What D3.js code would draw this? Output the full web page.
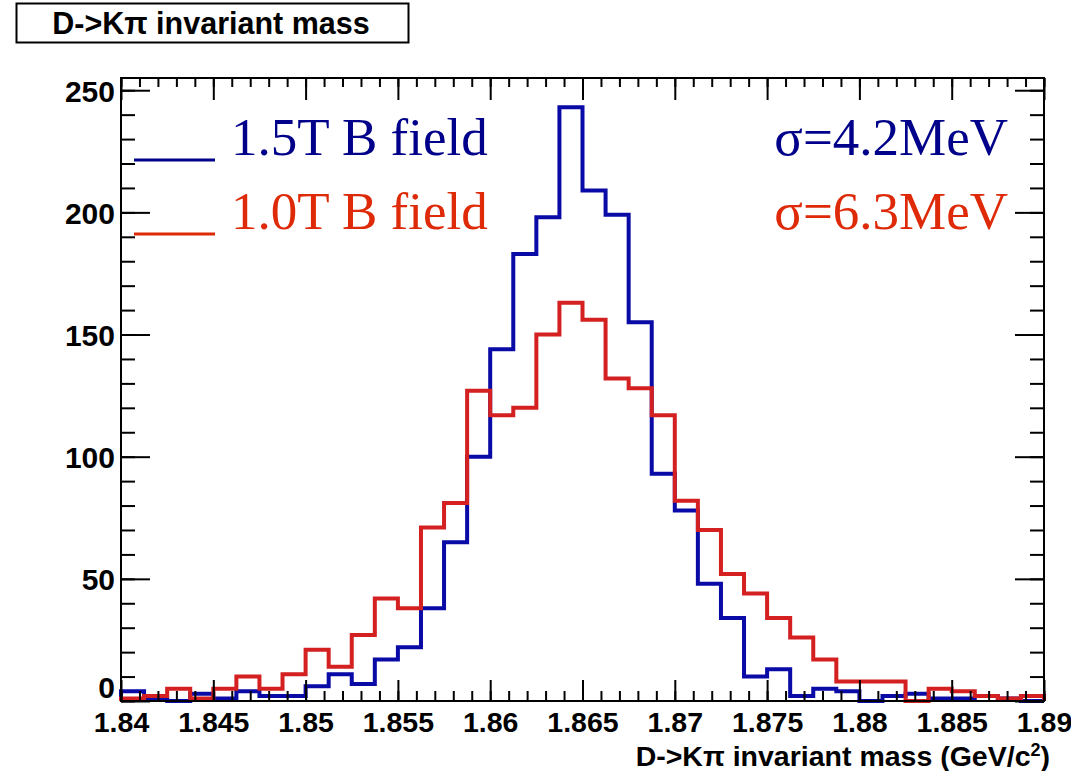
<!DOCTYPE html>
<html>
<head>
<meta charset="utf-8">
<script src="https://cdn.jsdelivr.net/npm/d3@7"></script>
<style>
  body { margin: 0; background: #fff; }
  text { font-family: "Liberation Sans", Arial, sans-serif; }
</style>
</head>
<body>
<script>
const svgWidth = 1071;
const svgHeight = 771;

// histogram binning (40 bins between 1.84 and 1.89 GeV/c2)
const xMin = 1.84;
const xMax = 1.89;
const nBins = 40;

// counts per bin
const counts15T = [4, 1, 0, 3, 1, 4, 2, 2, 6, 11, 7, 17, 22, 38, 65, 100, 144, 183, 198, 243,
                   209, 199, 155, 93, 78, 48, 34, 10, 13, 2, 5, 4, 0, 2, 3, 1, 1, 2, 1, 0];
const counts10T = [1, 2, 5, 1, 5, 10, 5, 11, 21, 14, 27, 42, 38, 71, 81, 127, 117, 120, 150, 163,
                   156, 132, 128, 117, 82, 70, 52, 44, 34, 26, 17, 8, 8, 8, 0, 5, 4, 2, 1, 2];

const xTicks = [1.84, 1.845, 1.85, 1.855, 1.86, 1.865, 1.87, 1.875, 1.88, 1.885, 1.89];
const xTickLabels = ['1.84', '1.845', '1.85', '1.855', '1.86', '1.865', '1.87', '1.875', '1.88', '1.885', '1.89'];
const yTicks = [0, 50, 100, 150, 200, 250];
const yTickLabels = ['0', '50', '100', '150', '200', '250'];

const legendLabels = ['1.5T B field', '1.0T B field'];
const sigmaLabels = ['\u03c3=4.2MeV', '\u03c3=6.3MeV'];

const lineColors = ['#0a0aa6', '#d42020'];
const textColors = ['#00008a', '#de2a08'];
const serif = '"Liberation Serif", "Times New Roman", serif';

const svg = d3.select('body')
              .append('svg')
              .attr('width', svgWidth)
              .attr('height', svgHeight);

const plotLeft = 121, plotRight = 1044, plotTop = 78, plotBottom = 701;

const x = d3.scaleLinear().domain([xMin, xMax]).range([plotLeft, plotRight]);
const y = d3.scaleLinear().domain([0, 255]).range([plotBottom, plotTop]);

const binWidth = (xMax - xMin) / nBins;
const minorX = d3.range(0, 51).map(i => xMin + i * 0.001);
const minorY = d3.range(0, 26).map(i => i * 10);

// title box
svg.append('rect')
   .attr('x', 16.5).attr('y', 3.5)
   .attr('width', 392).attr('height', 39)
   .attr('fill', '#fff').attr('stroke', '#000').attr('stroke-width', 2);
svg.append('text')
   .attr('x', 211).attr('y', 34)
   .attr('text-anchor', 'middle')
   .attr('font-size', 30.5).attr('font-weight', 'bold')
   .text('D->K\u03c0 invariant mass');

// histograms
function stepPoints(counts) {
  const pts = [[x(xMin), y(0)]];
  counts.forEach((c, i) => {
    const x0 = xMin + i * binWidth;
    pts.push([x(x0), y(c)]);
    pts.push([x(x0 + binWidth), y(c)]);
  });
  pts.push([x(xMax), y(0)]);
  return pts;
}

const line = d3.line();
[counts15T, counts10T].forEach((counts, k) => {
  svg.append('path')
     .attr('d', line(stepPoints(counts)))
     .attr('fill', 'none')
     .attr('stroke', lineColors[k])
     .attr('stroke-width', 4)
     .attr('stroke-linejoin', 'miter');
});

// axes (ROOT style, ticks inside the frame)
function styleAxis(g) {
  g.select('.domain').remove();
  g.selectAll('line').attr('stroke', '#000').attr('stroke-width', 2);
}

svg.append('g')
   .attr('transform', `translate(0,${plotBottom})`)
   .call(d3.axisBottom(x).tickValues(minorX).tickSize(-10).tickFormat(''))
   .call(styleAxis);
svg.append('g')
   .attr('transform', `translate(0,${plotBottom})`)
   .call(d3.axisBottom(x).tickValues(xTicks).tickSize(-21)
           .tickFormat((d, i) => xTickLabels[i]))
   .call(styleAxis)
   .selectAll('text')
   .attr('font-size', 28.5).attr('font-weight', 'bold').attr('fill', '#000')
   .attr('y', 31).attr('dy', 0);

svg.append('g')
   .attr('transform', `translate(0,${plotTop})`)
   .call(d3.axisTop(x).tickValues(minorX).tickSize(-9).tickFormat(''))
   .call(styleAxis);
svg.append('g')
   .attr('transform', `translate(0,${plotTop})`)
   .call(d3.axisTop(x).tickValues(xTicks).tickSize(-22).tickFormat(''))
   .call(styleAxis);

svg.append('g')
   .attr('transform', `translate(${plotLeft},0)`)
   .call(d3.axisLeft(y).tickValues(minorY).tickSize(-14).tickFormat(''))
   .call(styleAxis);
svg.append('g')
   .attr('transform', `translate(${plotLeft},0)`)
   .call(d3.axisLeft(y).tickValues(yTicks).tickSize(-29)
           .tickFormat((d, i) => yTickLabels[i]))
   .call(styleAxis)
   .selectAll('text')
   .attr('font-size', 30).attr('font-weight', 'bold').attr('fill', '#000')
   .attr('x', -6).attr('dy', d => d === 0 ? '-0.12em' : '0.36em');

svg.append('g')
   .attr('transform', `translate(${plotRight},0)`)
   .call(d3.axisRight(y).tickValues(minorY).tickSize(-14).tickFormat(''))
   .call(styleAxis);
svg.append('g')
   .attr('transform', `translate(${plotRight},0)`)
   .call(d3.axisRight(y).tickValues(yTicks).tickSize(-29).tickFormat(''))
   .call(styleAxis);

// frame
svg.append('rect')
   .attr('x', plotLeft).attr('y', plotTop)
   .attr('width', plotRight - plotLeft).attr('height', plotBottom - plotTop)
   .attr('fill', 'none').attr('stroke', '#000').attr('stroke-width', 2);

// x axis title
const xTitle = svg.append('text')
   .attr('x', 1050).attr('y', 766)
   .attr('text-anchor', 'end')
   .attr('font-size', 28.5).attr('font-weight', 'bold');
xTitle.append('tspan').text('D->K\u03c0 invariant mass (GeV/c');
xTitle.append('tspan').attr('font-size', 18).attr('dy', -10).text('2');
xTitle.append('tspan').attr('dy', 10).text(')');

// legend
const legendY = [160, 234];
legendLabels.forEach((label, k) => {
  svg.append('line')
     .attr('x1', 134).attr('x2', 215)
     .attr('y1', legendY[k]).attr('y2', legendY[k])
     .attr('stroke', textColors[k]).attr('stroke-width', 3);
  svg.append('text')
     .attr('x', 231).attr('y', legendY[k] - 5)
     .style('font-family', serif)
     .attr('font-size', 53)
     .attr('fill', textColors[k])
     .text(label);
  svg.append('text')
     .attr('x', 1008).attr('y', legendY[k] - 5)
     .attr('text-anchor', 'end')
     .style('font-family', serif)
     .attr('font-size', 53)
     .attr('fill', textColors[k])
     .text(sigmaLabels[k]);
});
</script>
</body>
</html>
